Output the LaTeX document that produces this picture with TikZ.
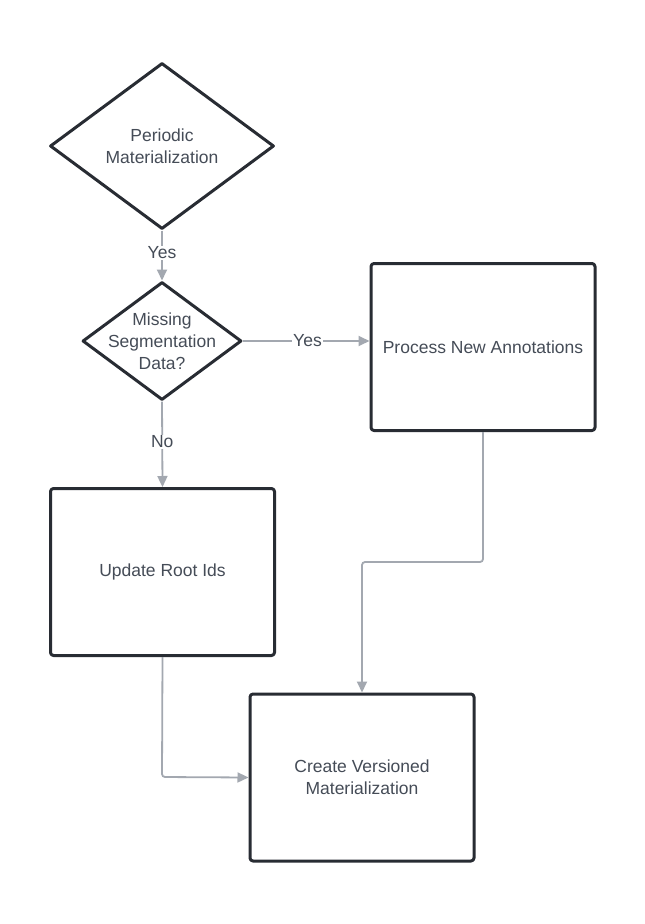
\documentclass[tikz,border=0pt]{standalone}
\usepackage{fontspec}
\setmainfont{Liberation Sans}
\usetikzlibrary{shapes.geometric,arrows.meta}
\definecolor{edgec}{HTML}{282C33}
\definecolor{linec}{HTML}{A3A8B0}
\definecolor{textc}{HTML}{454C57}
\begin{document}
\begin{tikzpicture}[x=1pt,y=-1pt,
  base/.style={draw=edgec,line width=3pt,text=textc,font=\fontsize{17.5}{22}\selectfont,align=center,inner sep=0pt,line join=round},
  boxn/.style={base,rectangle,rounded corners=3pt,minimum width=224pt,minimum height=167pt},
  dec/.style={base,diamond},
  txt/.style={text=textc,font=\fontsize{17.5}{22}\selectfont,align=center,inner sep=0pt},
  conn/.style={draw=linec,line width=1.8pt,-{Triangle[length=11pt,width=10pt]}},
  lbl/.style={fill=white,text=textc,font=\fontsize{17.5}{20}\selectfont,inner sep=1pt}]
\useasboundingbox (0,0) rectangle (645,924);
\fill[white] (0,0) rectangle (645,924);
\node[dec,minimum width=224pt,minimum height=166pt,aspect=1.35] (d1) at (162,146) {Periodic\\Materialization};
\node[dec,minimum width=159pt,minimum height=118pt,aspect=1.35] (d2) at (162,341) {};
\node[txt] (d2text) at (d2.center) {Missing\\Segmentation\\Data?};
\node[boxn] (pna) at (483,347) {Process New Annotations};
\node[boxn] (uri) at (162.5,572) {Update Root Ids};
\node[boxn] (cvm) at (362,777.5) {Create Versioned\\Materialization};
\draw[conn] (d1.south) -- node[lbl,pos=0.45] {Yes} (d2.north);
\draw[conn] (d2.east) -- node[lbl,pos=0.51] {Yes} (d2.east -| pna.west);
\draw[conn] (d2.south) -- node[lbl,pos=0.47] {No} (uri.north);
\draw[conn,rounded corners=3pt] (pna.south) -- (483,562) -- (362,562) -- (cvm.north);
\draw[conn,rounded corners=3pt] (uri.south) -- (162,777) -- (cvm.west);
\end{tikzpicture}
\end{document}
